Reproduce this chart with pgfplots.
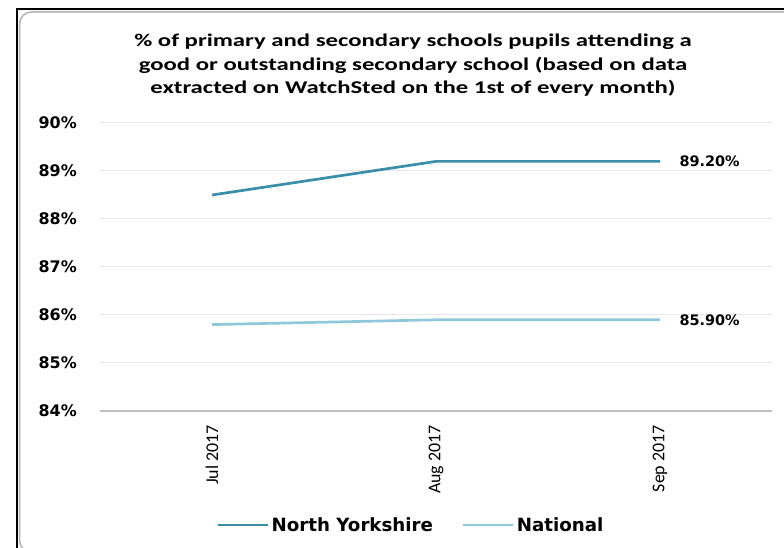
\documentclass[border=0pt]{standalone}
\usepackage{pgfplots}
\pgfplotsset{compat=1.18}
\usepackage{fontspec}
\setmainfont{Carlito}
\newfontfamily\titlefont[FakeStretch=1.38]{Carlito}
\newfontfamily\dejavu{DejaVu Sans}
\definecolor{nyc}{HTML}{3A8EA7}
\definecolor{natc}{HTML}{8FC8DA}
\definecolor{gridc}{HTML}{E6E6E6}
\definecolor{axisc}{HTML}{BFBFBF}
\begin{document}
\begin{tikzpicture}
\useasboundingbox (0,0) rectangle (784bp,548bp);
% frame
\draw[black,line width=2bp] (16.5bp,0bp) -- (16.5bp,538.5bp) -- (790bp,538.5bp);
\draw[gray!60,line width=1.5bp,rounded corners=12bp] (19.5bp,-4bp) rectangle (800bp,536bp);
% title
\node[font=\titlefont\bfseries\fontsize{18}{24}\selectfont,align=center,anchor=north] at (413bp,518bp)
 {\% of primary and secondary schools pupils attending a\\
  good or outstanding secondary school (based on data\\
  extracted on WatchSted on the 1st of every month)};
\begin{axis}[
  at={(100bp,137bp)}, anchor=south west,
  scale only axis, width=672bp, height=288bp,
  xmin=-0.5, xmax=2.5, ymin=84, ymax=90,
  xtick={0,1,2}, xticklabels={Jul 2017,Aug 2017,Sep 2017},
  ytick={84,85,...,90},
  extra y ticks={84}, extra y tick labels={},
  extra y tick style={grid style={axisc,line width=1.3bp}},
  yticklabel={\pgfmathprintnumber{\tick}\%},
  /pgf/number format/assume math mode=true,
  yticklabel style={font=\dejavu\bfseries\fontsize{16}{18}\selectfont,anchor=east,inner sep=0pt,xshift=-23bp},
  xticklabel style={font=\fontsize{18}{20}\selectfont,yshift=-14bp,rotate=90,anchor=east,inner sep=0pt},
  major tick length=0pt,
  ymajorgrids, grid style={gridc,line width=1bp},
  axis line style={draw=none},
  clip=false,
  legend style={at={(0.463,-0.396)},anchor=center,draw=none,fill=none,legend columns=2,
    font=\dejavu\bfseries\fontsize{18.3}{20}\selectfont,
    nodes={inner sep=2.5bp},
    /tikz/every even column/.append style={column sep=26bp}},
  legend image code/.code={\draw[#1,line width=2.7bp] (0bp,0bp) -- (50bp,0bp);},
]
\addplot[nyc,line width=2.7bp] coordinates {(0,88.5) (1,89.2) (2,89.2)};
\addlegendentry{North Yorkshire}
\addplot[natc,line width=2.7bp] coordinates {(0,85.8) (1,85.9) (2,85.9)};
\addlegendentry{National}
\node[font=\dejavu\bfseries\fontsize{14.5}{16}\selectfont,anchor=west,xshift=16bp] at (axis cs:2,89.2) {89.20\%};
\node[font=\dejavu\bfseries\fontsize{14.5}{16}\selectfont,anchor=west,xshift=16bp] at (axis cs:2,85.9) {85.90\%};
\end{axis}
\end{tikzpicture}
\end{document}
